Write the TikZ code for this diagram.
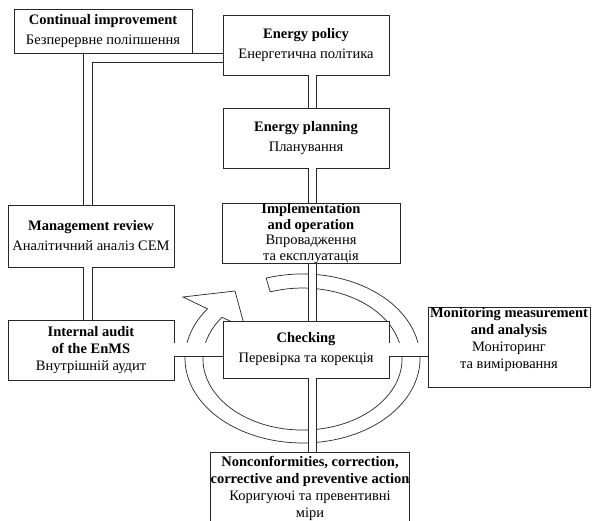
\documentclass[tikz,border=0pt]{standalone}
\usepackage{fontspec}
\setmainfont{Liberation Serif}
\begin{document}
\begin{tikzpicture}[x=1pt,y=-1pt,line width=0.8pt,
  box/.style={draw=black!85, fill=white, inner sep=0pt, align=center,
    font=\fontsize{14.5}{17}\selectfont},
  vdbl/.style={draw=black!85, double=white, double distance=7.5pt, line width=0.8pt, line join=miter},
  hdbl/.style={draw=black!85, double=white, double distance=13pt, line width=0.8pt, line join=miter},
  ldbl/.style={draw=black!85, double=white, double distance=8.5pt, line width=0.8pt, line join=miter},
  ring/.style={draw=black!85, fill=white, line width=0.7pt, line join=miter}]
\clip (0,0) rectangle (592,521);
\fill[white] (0,0) rectangle (592,521);

% cycle ring with arrow
\draw[ring] (266.2,278.1) arc[start angle=252, end angle=576, x radius=117.5, y radius=84.5]
  -- (183,297) -- (235,291) -- (245,328) -- (222.0,317.3)
  arc[start angle=576, end angle=251, x radius=99.5, y radius=71] -- cycle;

% helper coordinates for connector lines
\coordinate (vx) at (312.5,0);
\coordinate (hy) at (0,350);
\coordinate (lx) at (88,0);
\coordinate (ly) at (0,58);

% boxes
\node[box, minimum width=178pt, minimum height=44pt] (ci) at (103,31)
  {\textbf{Continual improvement}\\[3pt]Безперервне поліпшення};
\node[box, minimum width=166pt, minimum height=60pt] (ep) at (306,45)
  {\textbf{Energy policy}\\[3pt]Енергетична політика};
\node[box, minimum width=166pt, minimum height=60pt] (epl) at (306,138)
  {\textbf{Energy planning}\\[3pt]Планування};
\node[box, minimum width=178pt, minimum height=59pt, font=\fontsize{14.5}{15.5}\selectfont] (impl) at (311,233.5)
  {\textbf{Implementation}\\\textbf{and operation}\\Впровадження\\та експлуатація};
\node[box, minimum width=166pt, minimum height=62pt] (mr) at (91,236)
  {\textbf{Management review}\\[3pt]Аналітичний аналіз СЕМ};
\node[box, minimum width=166pt, minimum height=60pt] (ia) at (91,350)
  {\textbf{Internal audit}\\\textbf{of the EnMS}\\Внутрішній аудит};
\node[box, minimum width=166pt, minimum height=57pt] (chk) at (306,349.5)
  {\textbf{Checking}\\[3pt]Перевірка та корекція};
\node[box, minimum width=162pt, minimum height=78pt] (mon) at (509,347)
  {\textbf{Monitoring measurement}\\\textbf{and analysis}\\Моніторинг\\та вимірювання\\[2pt]};
\node[box, minimum width=198pt, minimum height=72pt] (nc) at (310,488)
  {\textbf{Nonconformities, correction,}\\\textbf{corrective and preventive action}\\Коригуючі та превентивні\\міри};

% connectors (double lines)
\draw[vdbl] (ep.south -| vx) -- (epl.north -| vx);
\draw[vdbl] (epl.south -| vx) -- (impl.north -| vx);
\draw[vdbl] (impl.south -| vx) -- (chk.north -| vx);
\draw[vdbl] (chk.south -| vx) -- (nc.north -| vx);
\draw[hdbl] (ia.east |- hy) -- (chk.west |- hy);
\draw[hdbl] (chk.east |- hy) -- (mon.west |- hy);
\draw[vdbl] (mr.south -| lx) -- (ia.north -| lx);
\draw[ldbl] (ep.west |- ly) -- (lx |- ly) -- (mr.north -| lx);
\end{tikzpicture}
\end{document}
